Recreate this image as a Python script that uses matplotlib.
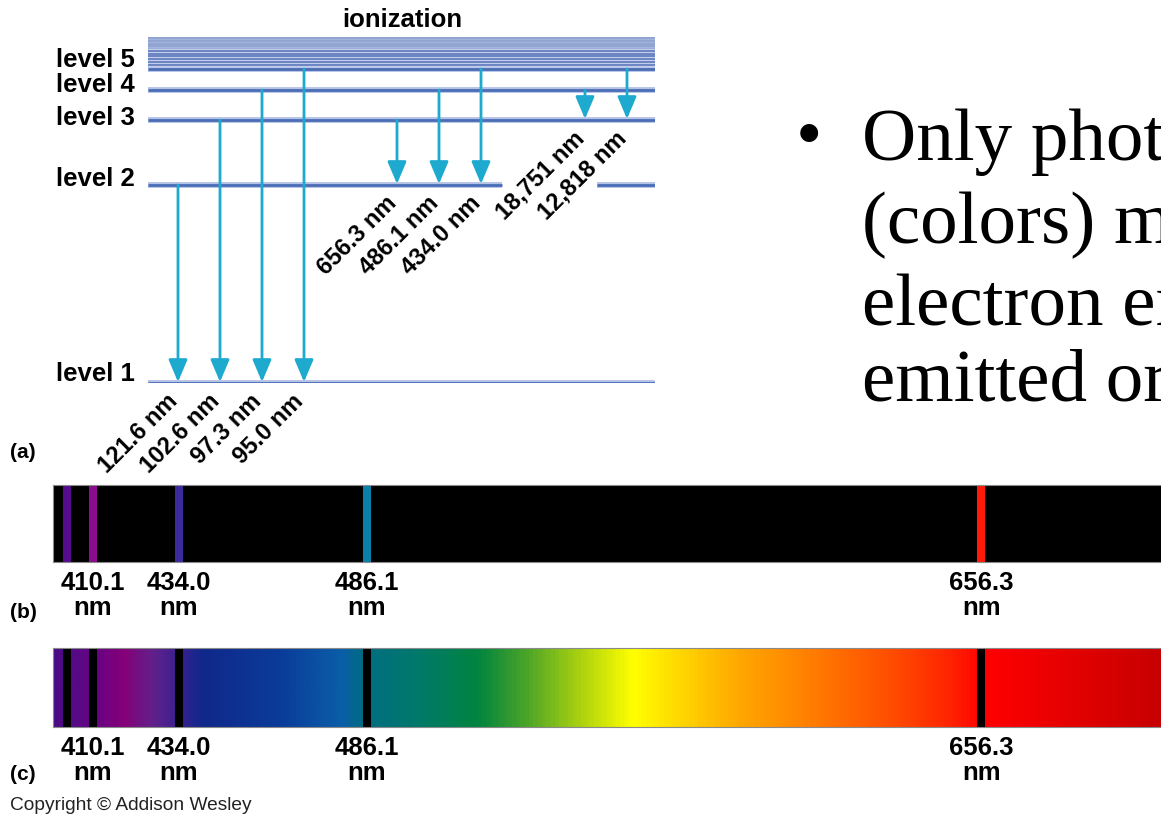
import numpy as np
import matplotlib.pyplot as plt
from matplotlib.colors import LinearSegmentedColormap

plt.rcParams['font.family'] = ['Liberation Sans', 'DejaVu Sans']

W, H = 1161, 817

# hydrogen energy levels, drawn as schematic heights above level 1
level_names = ["level 1", "level 2", "level 3", "level 4", "level 5"]
level_height = [0, 198, 263, 293, 314]
continuum_height = [318, 321.5, 324.5, 327, 329.5, 332]
ionization_top = 346

# downward transitions: upper level and emitted wavelength (nm)
lyman_upper = [2, 3, 4, 5]
lyman_nm = ["121.6", "102.6", "97.3", "95.0"]
balmer_upper = [3, 4, 5]
balmer_nm = ["656.3", "486.1", "434.0"]
paschen_upper = [4, 5]
paschen_nm = ["18,751", "12,818"]

# visible hydrogen lines (nm)
line_nm = [403.0, 410.1, 434.0, 486.1, 656.3]
line_labeled = [False, True, True, True, True]
line_colors = ["#560c8c", "#8a0c8c", "#3a2a9c", "#0a80a8", "#ff1a0a"]

# colour of the continuous spectrum along the wavelength axis
spectrum_nm = [399.1, 404, 412, 418, 426, 433, 440, 462, 478.6, 484.7,
               500.8, 516.6, 530, 544.6, 559.8, 572.5, 589.2, 608.3,
               633.8, 646.5, 657.9, 678.4, 706.1]
spectrum_colors = ["#4b0a86", "#560a86", "#6e0282", "#860078", "#62208a",
                   "#3c2090", "#10288a", "#0a3c9a", "#0a5ea8", "#006c84",
                   "#007a68", "#008440", "#4aa428", "#a8d010", "#ffff00",
                   "#ffd800", "#ffa800", "#ff8000", "#ff4800", "#ff2800",
                   "#ff0000", "#e80000", "#c80000"]

level_color = "#4a6db5"
arrow_color = "#1ea9cf"


def fx(px):
    return px / W


def fy(py):
    return 1 - py / H


fig = plt.figure(figsize=(W / 100, H / 100), dpi=100)
fig.patch.set_facecolor("white")

# ---- energy level diagram ----
ax = fig.add_axes([fx(148), fy(383), (655 - 148) / W, (383 - 37) / H])
ax.set_xlim(0, 507)
ax.set_ylim(0, ionization_top)
ax.axis("off")

span = 507
for i, h in enumerate(level_height):
    if level_names[i] == "level 2":
        segs = [(0, 354), (449, span)]
    else:
        segs = [(0, span)]
    for a, b in segs:
        ax.plot([a, b], [h, h], color="#b4c2e6", lw=4.2, solid_capstyle="butt", zorder=1)
        ax.plot([a, b], [h, h], color=level_color, lw=2.0, solid_capstyle="butt", zorder=2)

# converging levels up to ionization
ax.fill_between([0, span], continuum_height[-1], ionization_top, color="#a4b4dc", lw=0, zorder=1)
for h in np.linspace(continuum_height[-1] + 2, ionization_top - 1, 5):
    ax.plot([0, span], [h, h], color="#8ea2d2", lw=1.2, zorder=1)
for h in continuum_height:
    ax.plot([0, span], [h, h], color="#c2cdea", lw=3.2, solid_capstyle="butt", zorder=1)
    ax.plot([0, span], [h, h], color="#6680c0", lw=1.3, solid_capstyle="butt", zorder=2)

label_dy = [9, 6, 2, 5, 9]
for name, h, dy in zip(level_names, level_height, label_dy):
    ax.text(-13, h + dy, name, ha="right", va="center", fontsize=18.5,
            fontweight="bold", clip_on=False)

fig.text(fx(402), fy(20), "ionization", ha="center", va="center",
         fontsize=18.5, fontweight="bold")

series = [(lyman_upper, 1, lyman_nm, 30),
          (balmer_upper, 2, balmer_nm, 249),
          (paschen_upper, 3, paschen_nm, 437)]
step = 42
for uppers, lower, labels, x0 in series:
    y_low = level_height[lower - 1]
    for k, (up, lab) in enumerate(zip(uppers, labels)):
        x = x0 + step * k
        ax.annotate("", xy=(x, y_low + 1), xytext=(x, level_height[up - 1]),
                    arrowprops=dict(arrowstyle="-|>,head_length=0.85,head_width=0.36",
                                    color=arrow_color, lw=2, shrinkA=0, shrinkB=0,
                                    mutation_scale=16),
                    annotation_clip=False, zorder=3)
        ax.text(x - 4, y_low - 15, f"{lab} nm", rotation=45, rotation_mode="anchor",
                ha="right", va="center", fontsize=17, fontweight="bold", clip_on=False)

# ---- spectra ----
x_lo, x_hi = spectrum_nm[0], spectrum_nm[-1]

ax_b = fig.add_axes([fx(53), fy(562), 1 - fx(53), (562 - 485) / H])
ax_b.set_facecolor("black")
ax_b.set_xlim(x_lo, x_hi)
ax_b.set_ylim(0, 1)
ax_b.vlines(line_nm, 0, 1, colors=line_colors, lw=5.8)

ax_c = fig.add_axes([fx(53), fy(727), 1 - fx(53), (727 - 648) / H])
stops = [((nm - x_lo) / (x_hi - x_lo), c) for nm, c in zip(spectrum_nm, spectrum_colors)]
spec_cmap = LinearSegmentedColormap.from_list("spectrum", stops)
ax_c.imshow(np.linspace(0, 1, 1200)[None, :], extent=(x_lo, x_hi, 0, 1),
            aspect="auto", cmap=spec_cmap, vmin=0, vmax=1)
ax_c.set_xlim(x_lo, x_hi)
ax_c.set_ylim(0, 1)
ax_c.vlines(line_nm, 0, 1, colors="black", lw=5.8)

for a in (ax_b, ax_c):
    a.set_xticks([])
    a.set_yticks([])
    for s in a.spines.values():
        s.set_color("#8a8a8a")
        s.set_linewidth(0.8)
    a.spines["right"].set_visible(False)
    for nm, show in zip(line_nm, line_labeled):
        if show:
            a.text(nm, -0.12, f"{nm:.1f}\nnm", transform=a.get_xaxis_transform(),
                   ha="center", va="top", fontsize=18.5, fontweight="bold",
                   linespacing=1.05, clip_on=False)

# panel letters and credit
for letter, py in [("(a)", 452), ("(b)", 612), ("(c)", 775)]:
    fig.text(fx(10), fy(py), letter, ha="left", va="center", fontsize=15, fontweight="bold")
fig.text(fx(10), fy(806), "Copyright \u00a9 Addison Wesley", ha="left", va="center",
         fontsize=13.8, color="#222222")

# bullet text, running past the right edge
serif = ["Liberation Serif", "DejaVu Serif"]
fig.text(fx(796), fy(158), "\u2022", fontsize=54, family=serif, va="baseline")
for txt, py in [("Only photons", 160), ("(colors) may be", 243),
                ("electron energy", 325), ("emitted or absorbed", 400)]:
    fig.text(fx(862), fy(py), txt, fontsize=54, family=serif, va="baseline")

fig.savefig("out.png", dpi=100)
